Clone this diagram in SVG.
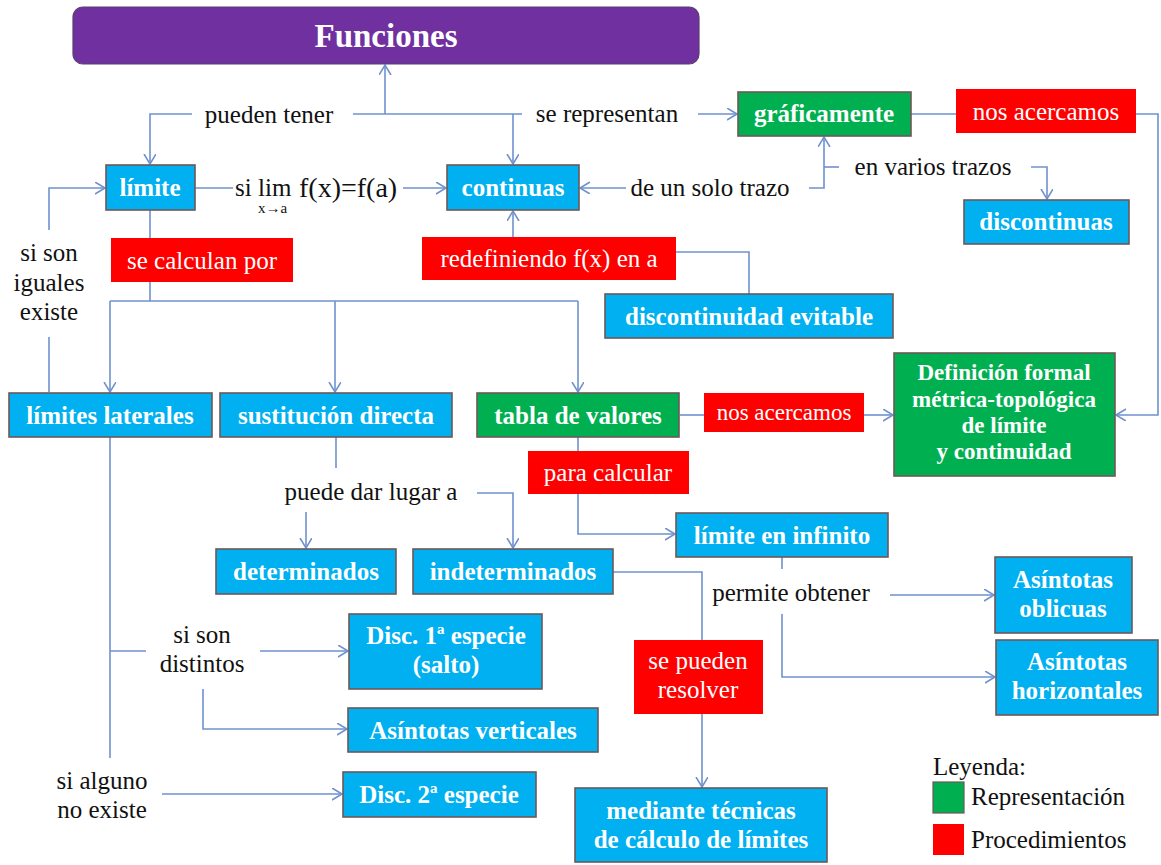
<svg xmlns="http://www.w3.org/2000/svg" width="1161" height="865" viewBox="0 0 1161 865">
<style>
.bg{fill:#ffffff}
.c{fill:none;stroke:#6F92CE;stroke-width:1.6}
.blue{fill:#00B0F0;stroke:#6E5858;stroke-width:1.6}
.green{fill:#00B050;stroke:#6E5858;stroke-width:1.6}
.red{fill:#FF0000}
.purple{fill:#7030A0;stroke:#5B3F6E;stroke-width:1.2}
text{font-family:"Liberation Serif","Times New Roman",serif;font-size:25px;text-anchor:middle}
.bt{font-weight:bold;fill:#ffffff}
.rt{fill:#ffffff}
.lt{fill:#111111}
.s{text-anchor:start}
.big{font-size:33px}
.mid{font-size:23px}
.def{font-size:23px}
.sub{font-size:15px}
.fx{font-size:28px}
</style>
<defs>
<marker id="ar" markerUnits="userSpaceOnUse" markerWidth="14" markerHeight="14" refX="10" refY="6" orient="auto">
<path d="M0,0 L10,6 L0,12" fill="none" stroke="#6F92CE" stroke-width="1.6"/>
</marker>
</defs>
<rect class="bg" x="0" y="0" width="1161" height="865"/>

<g id="connectors">
<path class="c" d="M385,114 V65" marker-end="url(#ar)"/>
<path class="c" d="M192,114 H150 V164" marker-end="url(#ar)"/>
<path class="c" d="M353,114 H522"/>
<path class="c" d="M513,114 V164" marker-end="url(#ar)"/>
<path class="c" d="M698,114 H737" marker-end="url(#ar)"/>
<path class="c" d="M195,188 H233"/>
<path class="c" d="M403,188 H446" marker-end="url(#ar)"/>
<path class="c" d="M626,188 H580" marker-end="url(#ar)"/>
<path class="c" d="M809,188 H824 V137" marker-end="url(#ar)"/>
<path class="c" d="M824,167 H839"/>
<path class="c" d="M1031,167 H1047 V199" marker-end="url(#ar)"/>
<path class="c" d="M911,114 H956"/>
<path class="c" d="M1136,114 H1158 V415 H1116" marker-end="url(#ar)"/>
<path class="c" d="M513,237 V211" marker-end="url(#ar)"/>
<path class="c" d="M676,252 H749 V294"/>
<path class="c" d="M150,210 V301"/>
<path class="c" d="M110,301 H578"/>
<path class="c" d="M110,301 V392" marker-end="url(#ar)"/>
<path class="c" d="M335,301 V392" marker-end="url(#ar)"/>
<path class="c" d="M578,301 V392" marker-end="url(#ar)"/>
<path class="c" d="M49,392 V337"/>
<path class="c" d="M49,230 V188 H105" marker-end="url(#ar)"/>
<path class="c" d="M680,415 H704"/>
<path class="c" d="M864,415 H893" marker-end="url(#ar)"/>
<path class="c" d="M336,437 V468"/>
<path class="c" d="M306,512 V548" marker-end="url(#ar)"/>
<path class="c" d="M477,493 H513 V548" marker-end="url(#ar)"/>
<path class="c" d="M613,572 H702 V640"/>
<path class="c" d="M702,714 V787" marker-end="url(#ar)"/>
<path class="c" d="M578,437 V451"/>
<path class="c" d="M578,494 V534 H675" marker-end="url(#ar)"/>
<path class="c" d="M782,557 V569"/>
<path class="c" d="M782,614 V677 H995" marker-end="url(#ar)"/>
<path class="c" d="M890,595 H994" marker-end="url(#ar)"/>
<path class="c" d="M110,437 V758"/>
<path class="c" d="M110,651 H146"/>
<path class="c" d="M260,651 H348" marker-end="url(#ar)"/>
<path class="c" d="M203,689 V729 H347" marker-end="url(#ar)"/>
<path class="c" d="M162,794 H342" marker-end="url(#ar)"/>
</g>

<g id="funciones"><rect class="purple" x="73" y="7" width="626" height="57" rx="10"/><text class="bt big" x="386" y="47">Funciones</text></g>
<g id="limite"><rect class="blue" x="106" y="165" width="89" height="45"/><text class="bt" x="150" y="196">límite</text></g>
<g id="formula">
<text class="lt s" x="235" y="196">si</text>
<text class="lt s" x="258" y="196">lim<tspan class="sub" x="258" y="213">x→a</tspan></text>
<text class="lt s fx" x="299" y="197">f(x)=f(a)</text>
</g>
<g id="continuas"><rect class="blue" x="447" y="165" width="132" height="45"/><text class="bt" x="513" y="196">continuas</text></g>
<g id="graficamente"><rect class="green" x="738" y="92" width="173" height="44"/><text class="bt" x="824" y="122">gráficamente</text></g>
<g id="nos-acercamos-1"><rect class="red" x="956" y="89" width="180" height="44"/><text class="rt" x="1046" y="120">nos acercamos</text></g>
<g id="discontinuas"><rect class="blue" x="964" y="200" width="165" height="44"/><text class="bt" x="1046" y="230">discontinuas</text></g>
<g id="se-calculan-por"><rect class="red" x="111" y="238" width="182" height="44"/><text class="rt" x="202" y="269">se calculan por</text></g>
<g id="redefiniendo"><rect class="red" x="422" y="237" width="254" height="43"/><text class="rt" x="549" y="267">redefiniendo f(x) en a</text></g>
<g id="discontinuidad-evitable"><rect class="blue" x="605" y="294" width="288" height="44"/><text class="bt" x="749" y="325">discontinuidad evitable</text></g>
<g id="limites-laterales"><rect class="blue" x="9" y="393" width="203" height="44"/><text class="bt" x="110" y="424">límites laterales</text></g>
<g id="sustitucion-directa"><rect class="blue" x="220" y="393" width="232" height="44"/><text class="bt" x="336" y="424">sustitución directa</text></g>
<g id="tabla-de-valores"><rect class="green" x="477" y="393" width="202" height="44"/><text class="bt" x="578" y="424">tabla de valores</text></g>
<g id="nos-acercamos-2"><rect class="red" x="704" y="393" width="160" height="39"/><text class="rt mid" x="784" y="420">nos acercamos</text></g>
<g id="definicion-formal"><rect class="green" x="894" y="353" width="221" height="123"/>
<text class="bt def" x="1004" y="380">Definición formal</text>
<text class="bt def" x="1004" y="407">métrica-topológica</text>
<text class="bt def" x="1004" y="433">de límite</text>
<text class="bt def" x="1004" y="459">y continuidad</text></g>
<g id="para-calcular"><rect class="red" x="528" y="451" width="161" height="43"/><text class="rt" x="608" y="481">para calcular</text></g>
<g id="limite-en-infinito"><rect class="blue" x="676" y="513" width="212" height="44"/><text class="bt" x="782" y="544">límite en infinito</text></g>
<g id="determinados"><rect class="blue" x="216" y="549" width="180" height="45"/><text class="bt" x="306" y="580">determinados</text></g>
<g id="indeterminados"><rect class="blue" x="413" y="549" width="200" height="45"/><text class="bt" x="513" y="580">indeterminados</text></g>
<g id="asintotas-oblicuas"><rect class="blue" x="995" y="557" width="137" height="76"/><text class="bt" x="1063" y="588">Asíntotas</text><text class="bt" x="1063" y="617">oblicuas</text></g>
<g id="asintotas-horizontales"><rect class="blue" x="996" y="640" width="162" height="75"/><text class="bt" x="1077" y="670">Asíntotas</text><text class="bt" x="1077" y="699">horizontales</text></g>
<g id="disc-1"><rect class="blue" x="349" y="614" width="193" height="75"/><text class="bt" x="446" y="644">Disc. 1ª especie</text><text class="bt" x="446" y="673">(salto)</text></g>
<g id="se-pueden-resolver"><rect class="red" x="634" y="640" width="129" height="74"/><text class="rt" x="698" y="669">se pueden</text><text class="rt" x="698" y="698">resolver</text></g>
<g id="asintotas-verticales"><rect class="blue" x="348" y="708" width="250" height="44"/><text class="bt" x="473" y="739">Asíntotas verticales</text></g>
<g id="disc-2"><rect class="blue" x="343" y="772" width="193" height="45"/><text class="bt" x="439" y="803">Disc. 2ª especie</text></g>
<g id="mediante-tecnicas"><rect class="blue" x="575" y="788" width="252" height="74"/><text class="bt" x="701" y="819">mediante técnicas</text><text class="bt" x="701" y="848">de cálculo de límites</text></g>

<g id="labels">
<text class="lt" x="269" y="123">pueden tener</text>
<text class="lt" x="607" y="122">se representan</text>
<text class="lt" x="710" y="196">de un solo trazo</text>
<text class="lt" x="933" y="175">en varios trazos</text>
<text class="lt" x="49" y="261">si son</text>
<text class="lt" x="49" y="291">iguales</text>
<text class="lt" x="49" y="320">existe</text>
<text class="lt" x="371" y="500">puede dar lugar a</text>
<text class="lt" x="791" y="601">permite obtener</text>
<text class="lt" x="202" y="643">si son</text>
<text class="lt" x="202" y="672">distintos</text>
<text class="lt" x="102" y="789">si alguno</text>
<text class="lt" x="102" y="818">no existe</text>
</g>

<g id="legend">
<text class="lt s" x="933" y="775">Leyenda:</text>
<rect x="933" y="782" width="31" height="31" fill="#00B050" stroke="#6E5858" stroke-width="1.2"/>
<text class="lt s" x="971" y="805">Representación</text>
<rect x="933" y="824" width="31" height="31" fill="#FF0000"/>
<text class="lt s" x="971" y="848">Procedimientos</text>
</g>
</svg>
